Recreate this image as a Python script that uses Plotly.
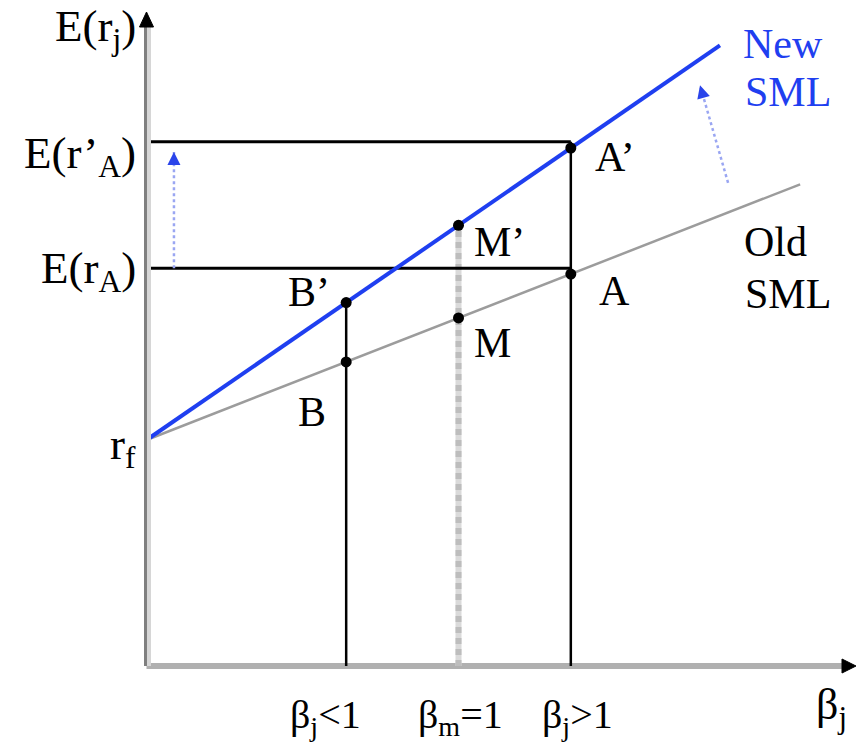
import plotly.graph_objects as go

# ---------------- data ----------------
point_names = ["B", "M", "A"]          # securities / market portfolio
betas = [0.64, 1.0, 1.36]              # beta of B, market, A
rf = 5.0                               # risk-free rate
premium_old = 2.7                      # old market risk premium (slope of old SML)
premium_new = 4.75                     # new market risk premium (slope of new SML)
sml_old_end = 2.095                    # beta where the old SML is drawn to
sml_new_end = 1.838                    # beta where the new SML is drawn to
y_tick_vals = [5.0, 8.8, 11.6]         # rf, E(rA), E(r'A)
y_tick_text = ["r<sub>f</sub>", "E(r<sub>A</sub>)", "E(r’<sub>A</sub>)"]
x_tick_text = ["β<sub>j</sub>&lt;1", "β<sub>m</sub>=1", "β<sub>j</sub>&gt;1"]

# ---------------- figure geometry ----------------
W, H = 857, 742
PX_PER_BETA = 312.0
ORIGIN_PX = 146.5
PX_PER_UNIT = 45.2
ORIGIN_PY = 666.0
x_range = [-ORIGIN_PX / PX_PER_BETA, (W - ORIGIN_PX) / PX_PER_BETA]
y_range = [-(H - ORIGIN_PY) / PX_PER_UNIT, ORIGIN_PY / PX_PER_UNIT]
y_axis_top = (ORIGIN_PY - 12) / PX_PER_UNIT
x_axis_end = (W - 1 - ORIGIN_PX) / PX_PER_BETA

FONT = "Liberation Serif, Times New Roman, serif"
BLUE = "#1f3ff0"


def sml(b, premium):
    return rf + premium * b


fig = go.Figure()

# SML lines
fig.add_trace(go.Scatter(x=[0, sml_old_end], y=[sml(0, premium_old), sml(sml_old_end, premium_old)],
                         mode="lines", line=dict(color="#9c9c9c", width=2.5), hoverinfo="skip"))
fig.add_trace(go.Scatter(x=[0, sml_new_end], y=[sml(0, premium_new), sml(sml_new_end, premium_new)],
                         mode="lines", line=dict(color=BLUE, width=4), hoverinfo="skip"))

# dots on both SMLs
old_y = [sml(b, premium_old) for b in betas]
new_y = [sml(b, premium_new) for b in betas]
fig.add_trace(go.Scatter(x=betas + betas, y=old_y + new_y, mode="markers",
                         marker=dict(color="black", size=11), hoverinfo="skip"))

shapes = []
# axes
shapes.append(dict(type="line", xref="x", yref="y", x0=0, x1=x_axis_end - 0.03, y0=0, y1=0,
                   line=dict(color="#b0b0b0", width=6), layer="below"))
shapes.append(dict(type="line", xref="x", yref="y", xsizemode="pixel", xanchor=0, x0=2.5, x1=2.5,
                   y0=0, y1=y_axis_top - 0.3, line=dict(color="#d6d6d6", width=4), layer="above"))
shapes.append(dict(type="line", xref="x", yref="y", xsizemode="pixel", xanchor=0, x0=-1, x1=-1,
                   y0=0, y1=y_axis_top - 0.3, line=dict(color="#7f7f7f", width=3), layer="above"))
shapes.append(dict(type="path", xref="x", yref="y", xsizemode="pixel", ysizemode="pixel",
                   xanchor=0, yanchor=y_axis_top, path="M -7,-15 L 7,-15 L 0,0 Z",
                   fillcolor="black", line=dict(color="black", width=1)))
shapes.append(dict(type="path", xref="x", yref="y", xsizemode="pixel", ysizemode="pixel",
                   xanchor=x_axis_end, yanchor=0, path="M -14,-7 L -14,7 L 0,0 Z",
                   fillcolor="black", line=dict(color="black", width=1)))

bB, bM, bA = betas
# vertical at beta B up to B'
shapes.append(dict(type="line", xref="x", yref="y", x0=bB, x1=bB, y0=0, y1=sml(bB, premium_new),
                   line=dict(color="black", width=2.5), layer="below"))
# dotted vertical at beta_m up to M'
shapes.append(dict(type="line", xref="x", yref="y", x0=bM, x1=bM, y0=0, y1=sml(bM, premium_new),
                   line=dict(color="#dadada", width=6), layer="below"))
shapes.append(dict(type="line", xref="x", yref="y", x0=bM, x1=bM, y0=0, y1=sml(bM, premium_new),
                   line=dict(color="#bdbdbd", width=6, dash="6px,5px"), layer="below"))
# vertical at beta A up to E(r'A)
shapes.append(dict(type="line", xref="x", yref="y", x0=bA, x1=bA, y0=0, y1=y_tick_vals[2],
                   line=dict(color="black", width=2.5), layer="below"))
# horizontal lines
for yv in y_tick_vals[1:]:
    shapes.append(dict(type="line", xref="x", yref="y", x0=0, x1=bA, y0=yv, y1=yv,
                       line=dict(color="black", width=3), layer="below"))

annotations = []


def label(text, x, y, xshift=0, yshift=0, xanchor="left", yanchor="middle", size=42, color="black"):
    annotations.append(dict(text=text, x=x, y=y, xref="x", yref="y", showarrow=False,
                            xshift=xshift, yshift=yshift, xanchor=xanchor, yanchor=yanchor,
                            font=dict(family=FONT, size=size, color=color)))


# y-axis labels
label("E(r<sub>j</sub>)", 0, y_axis_top, xshift=-9, yshift=13, xanchor="right", yanchor="top", size=45)
y_label_shift = [23, 27, 16]
for val, txt, ys in zip(y_tick_vals, y_tick_text, y_label_shift):
    label(txt, 0, val, xshift=-9, yshift=ys, xanchor="right", yanchor="top", size=45)

# x-axis labels
x_label_shift = [-21, 2, 7]
for b, txt, xs in zip(betas, x_tick_text, x_label_shift):
    label(txt, b, 0, xshift=xs, yshift=-24, xanchor="center", yanchor="top", size=40)
label("β<sub>j</sub>", x_axis_end, 0, xshift=-25, yshift=-12, xanchor="center", yanchor="top", size=44)

# point labels
label("B’", bB, sml(bB, premium_new), xshift=-14, yshift=11, xanchor="right")
label("B", bB, sml(bB, premium_old), xshift=-34, yshift=-50, xanchor="center")
label("M’", bM, sml(bM, premium_new), xshift=13, yshift=-17)
label("M", bM, sml(bM, premium_old), xshift=13, yshift=-25)
label("A’", bA, sml(bA, premium_new), xshift=22, yshift=-9)
label("A", bA, sml(bA, premium_old), xshift=26, yshift=-17)

# SML names
label("New", sml_new_end, sml(sml_new_end, premium_new), xshift=21, yshift=1, color=BLUE)
label("SML", sml_new_end, sml(sml_new_end, premium_new), xshift=23, yshift=-47, color=BLUE)
label("Old", sml_old_end, sml(sml_old_end, premium_old), xshift=-58, yshift=-58)
label("SML", sml_old_end, sml(sml_old_end, premium_old), xshift=-57, yshift=-110)

# blue shift arrows (dotted shaft + arrow head)
arrows = [  # (tail beta, tail E, head beta, head E)
    (0.088, 8.8, 0.088, 11.37),
    (1.864, 10.69, 1.774, 12.85),
]
for tx, ty, hx, hy in arrows:
    shapes.append(dict(type="line", xref="x", yref="y", x0=tx, x1=hx, y0=ty, y1=hy,
                       line=dict(color="#9aa6f2", width=2.5, dash="dot"), layer="below"))
    dxp = (hx - tx) * PX_PER_BETA
    dyp = -(hy - ty) * PX_PER_UNIT
    n = (dxp ** 2 + dyp ** 2) ** 0.5
    annotations.append(dict(x=hx, y=hy, xref="x", yref="y", text="", showarrow=True,
                            ax=-dxp / n * 12, ay=-dyp / n * 12, arrowhead=2, arrowsize=1.3,
                            arrowwidth=2, arrowcolor="#2a44ea", standoff=0))

fig.update_layout(
    width=W, height=H, margin=dict(l=0, r=0, t=0, b=0),
    paper_bgcolor="white", plot_bgcolor="white", showlegend=False,
    xaxis=dict(range=x_range, visible=False, fixedrange=True),
    yaxis=dict(range=y_range, visible=False, fixedrange=True),
    shapes=shapes, annotations=annotations,
)

fig.write_html("out.html", config={"displayModeBar": False},
               post_script="document.body.style.margin='0';document.body.style.overflow='hidden';")
